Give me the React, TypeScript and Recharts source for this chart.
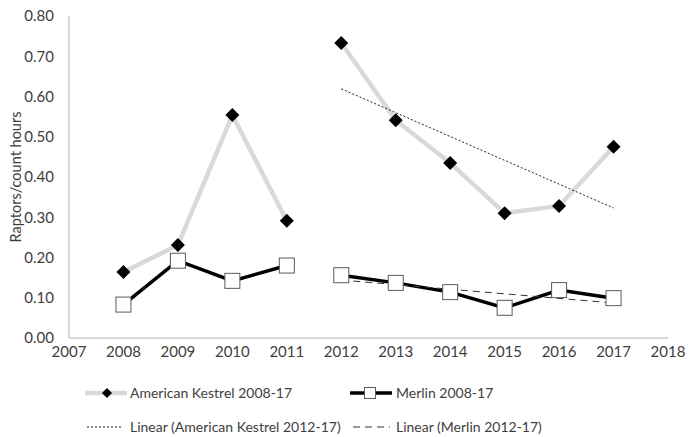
import React from 'react';
import { Line, LineChart, XAxis, YAxis } from 'recharts';

const years = [2008, 2009, 2010, 2011, 2012, 2013, 2014, 2015, 2016, 2017];
const kestrel = [0.164, 0.231, 0.554, 0.291, 0.733, 0.541, 0.435, 0.31, 0.328, 0.475];
const merlin = [0.083, 0.192, 0.142, 0.18, 0.156, 0.137, 0.114, 0.075, 0.119, 0.099];
const splitYear = 2012;
const trendYears = [2012, 2017];
const kestrelTrend = [0.619, 0.323];
const merlinTrend = [0.144, 0.087];
const xTicks = [2007, 2008, 2009, 2010, 2011, 2012, 2013, 2014, 2015, 2016, 2017, 2018];
const yTicks = [0, 0.1, 0.2, 0.3, 0.4, 0.5, 0.6, 0.7, 0.8];

const FONT = 'Lato, "Open Sans", sans-serif';
const TEXT = '#404040';
const FS = 15;

const rows = years.map((year, i) => {
  const t = trendYears.indexOf(year);
  return {
    year,
    kA: year < splitYear ? kestrel[i] : null,
    kB: year >= splitYear ? kestrel[i] : null,
    mA: year < splitYear ? merlin[i] : null,
    mB: year >= splitYear ? merlin[i] : null,
    kT: t >= 0 ? kestrelTrend[t] : null,
    mT: t >= 0 ? merlinTrend[t] : null,
  };
});

const Diamond = (props: any) => {
  const { cx, cy, value } = props;
  if (cx == null || cy == null || value == null) return <g key={props.key} />;
  const r = 7;
  return (
    <path
      key={props.key}
      d={`M${cx},${cy - r}L${cx + r},${cy}L${cx},${cy + r}L${cx - r},${cy}Z`}
      fill="#000"
    />
  );
};

const Square = (props: any) => {
  const { cx, cy, value } = props;
  if (cx == null || cy == null || value == null) return <g key={props.key} />;
  return (
    <rect key={props.key} x={cx - 7.5} y={cy - 7.5} width={15} height={15} fill="#fff" stroke="#5a5a5a" strokeWidth={1} />
  );
};

const legendText: React.CSSProperties = {
  position: 'absolute',
  fontFamily: FONT,
  fontSize: 14,
  color: TEXT,
  whiteSpace: 'nowrap',
  lineHeight: '18px',
};

export default function App() {
  return (
    <div style={{ position: 'relative', width: 689, height: 437, background: '#fff' }}>
      <style>{'body{margin:0}'}</style>
      <LineChart width={689} height={437} data={rows} margin={{ top: 16, right: 21, bottom: 69, left: 0 }}>
        <XAxis
          dataKey="year"
          type="number"
          domain={[2007, 2018]}
          ticks={xTicks}
          interval={0}
          tickLine={false}
          tickSize={0}
          tickMargin={8}
          stroke="#b0b0b0"
          tick={{ fill: TEXT, fontSize: FS, fontFamily: FONT }}
        />
        <YAxis
          width={69}
          domain={[0, 0.8]}
          ticks={yTicks}
          interval={0}
          tickLine={false}
          tickSize={0}
          tickMargin={15}
          tickFormatter={(v: number) => v.toFixed(2)}
          stroke="#b0b0b0"
          tick={{ fill: TEXT, fontSize: FS, fontFamily: FONT }}
          label={{
            value: 'Raptors/count hours',
            angle: -90,
            position: 'insideLeft',
            offset: 16,
            style: { textAnchor: 'middle', fill: TEXT, fontSize: 14.5, fontFamily: FONT },
          }}
        />
        <Line dataKey="kA" stroke="#d9d9d9" strokeWidth={4.5} dot={Diamond} activeDot={false} isAnimationActive={false} />
        <Line dataKey="kB" stroke="#d9d9d9" strokeWidth={4.5} dot={Diamond} activeDot={false} isAnimationActive={false} />
        <Line dataKey="mA" stroke="#000" strokeWidth={3.5} dot={Square} activeDot={false} isAnimationActive={false} />
        <Line dataKey="mB" stroke="#000" strokeWidth={3.5} dot={Square} activeDot={false} isAnimationActive={false} />
        <Line dataKey="kT" stroke="#222" strokeWidth={1} strokeDasharray="2 2" connectNulls dot={false} activeDot={false} isAnimationActive={false} />
        <Line dataKey="mT" stroke="#333" strokeWidth={1} strokeDasharray="7 5" connectNulls dot={false} activeDot={false} isAnimationActive={false} />
      </LineChart>

      <svg style={{ position: 'absolute', left: 0, top: 380 }} width={689} height={57}>
        <line x1={85} x2={127} y1={13} y2={13} stroke="#d9d9d9" strokeWidth={4.5} />
        <path d="M107,8L112,13L107,18L102,13Z" fill="#000" />
        <line x1={350} x2={392} y1={13} y2={13} stroke="#000" strokeWidth={3.5} />
        <rect x={364.5} y={7.5} width={11} height={11} fill="#fff" stroke="#5a5a5a" />
        <line x1={87} x2={122} y1={47} y2={47} stroke="#222" strokeWidth={1} strokeDasharray="2 2" />
        <line x1={353} x2={390} y1={47} y2={47} stroke="#333" strokeWidth={1} strokeDasharray="7 5" />
      </svg>
      <div style={{ ...legendText, left: 130, top: 384 }}>American Kestrel 2008-17</div>
      <div style={{ ...legendText, left: 396, top: 384 }}>Merlin 2008-17</div>
      <div style={{ ...legendText, left: 130, top: 418 }}>Linear (American Kestrel 2012-17)</div>
      <div style={{ ...legendText, left: 396, top: 418 }}>Linear (Merlin 2012-17)</div>
    </div>
  );
}
